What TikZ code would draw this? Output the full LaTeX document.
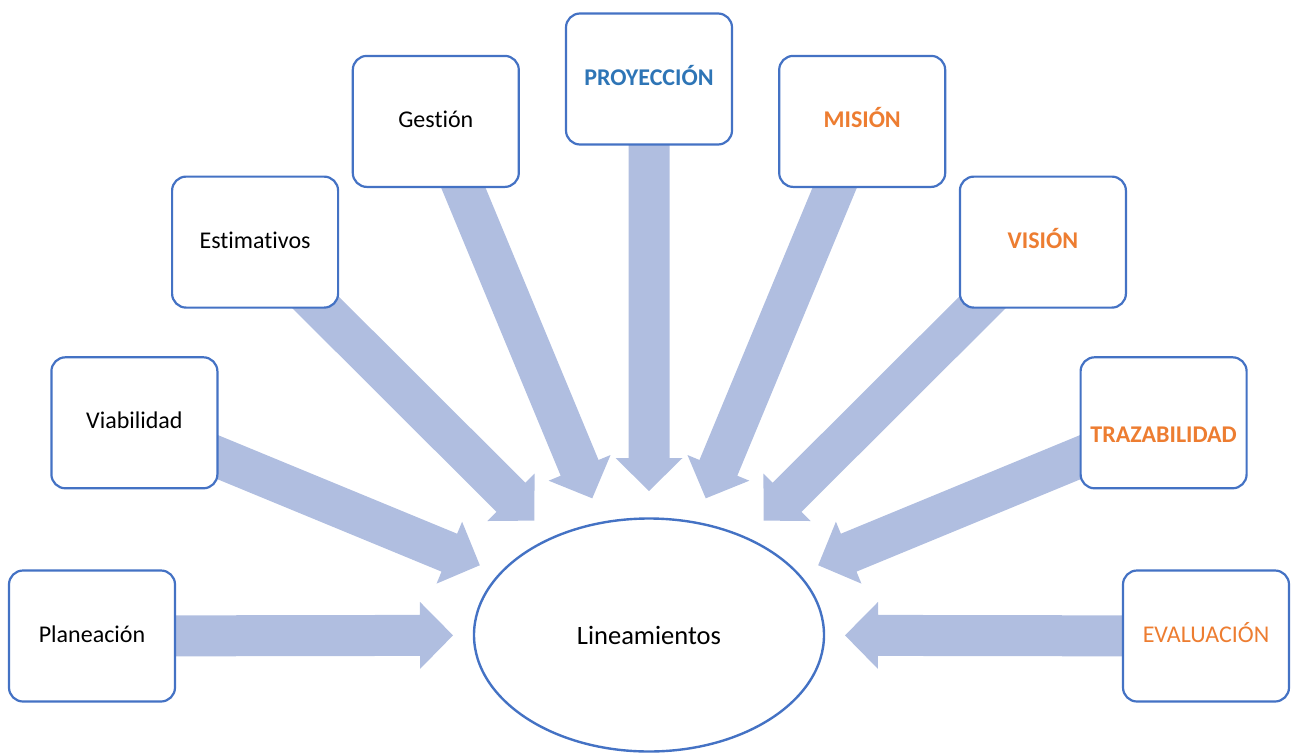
\documentclass[tikz,border=0pt]{standalone}
\usepackage{fontspec}
\setmainfont{Carlito}[Ligatures={NoCommon}, RawFeature={-liga;-dlig}]
\usetikzlibrary{calc,backgrounds,shapes.geometric}

\definecolor{boxline}{HTML}{4472C4}
\definecolor{arrowfill}{RGB}{176,190,224}
\definecolor{accorange}{HTML}{ED7D31}
\definecolor{accblue}{HTML}{2E75B6}

% Block arrow from #1 (start) to #2 (tip): shaft 41, head 67 wide, 33 long
\newcommand\radialarrow[2]{%
  \coordinate (arrowbase) at ($(#2)!33pt!(#1)$);
  \fill[arrowfill] ($(#1)!20.5pt!90:(#2)$)
    -- ($(arrowbase)!20.5pt!-90:(#1)$)
    -- ($(arrowbase)!33.5pt!-90:(#1)$)
    -- (#2)
    -- ($(arrowbase)!33.5pt!90:(#1)$)
    -- ($(arrowbase)!20.5pt!90:(#1)$)
    -- ($(#1)!20.5pt!-90:(#2)$) -- cycle;}

\begin{document}
\begin{tikzpicture}[x=1pt,y=-1pt,
  box/.style={draw=boxline, line width=2.2pt, fill=white, rounded corners=14pt,
    minimum width=166pt, minimum height=131pt, inner sep=0pt, align=center,
    text height=17pt, text depth=5pt,
    font=\fontsize{24}{28}\selectfont},
  boxtext/.style={inner sep=0pt, text height=17pt, text depth=5pt,
    font=\fontsize{24}{28}\selectfont},
  hub/.style={draw=boxline, line width=2.4pt, fill=white, ellipse,
    minimum width=350pt, minimum height=233pt, inner sep=0pt,
    font=\fontsize{26.5}{30}\selectfont},
  strong/.style={text=accorange, font=\fontsize{24}{28}\selectfont\bfseries}]

\useasboundingbox (0,0) rectangle (1291,753);

% central ellipse
\node[hub] (lin) at (649,635) {Lineamientos};

% surrounding boxes on a circle around the ellipse
\node[box] (plan) at (92,636)      {Planeación};
\node[box] (viab) at (134.4,422.8) {Viabilidad};
\node[box] (esti) at (255.1,242.1) {Estimativos};
\node[box] (gest) at (435.8,121.4) {Gestión};
\node[box, text=accblue, font=\fontsize{24}{28}\selectfont\bfseries] (proy) at (649,79) {PROYECCIÓN};
\node[box, strong] (mis) at (862.2,121.4)  {MISIÓN};
\node[box, strong] (vis) at (1042.9,242.1) {VISIÓN};
\node[box] (traz) at (1163.6,422.8) {};
\node[boxtext, strong] (trazlabel) at (1163.6,436) {TRAZABILIDAD};
\node[box, text=accorange] (eval) at (1206,636) {EVALUACIÓN};

% converging arrows, drawn beneath the boxes
\begin{scope}[on background layer]
  \foreach \b/\d in {plan/196, viab/183, esti/162, gest/148, proy/144,
                     mis/148, vis/162, traz/183, eval/196} {
    \coordinate (tip-\b) at ($(lin.center)!\d pt!(\b.center)$);
    \radialarrow{\b.center}{tip-\b}
  }
\end{scope}
\end{tikzpicture}
\end{document}
